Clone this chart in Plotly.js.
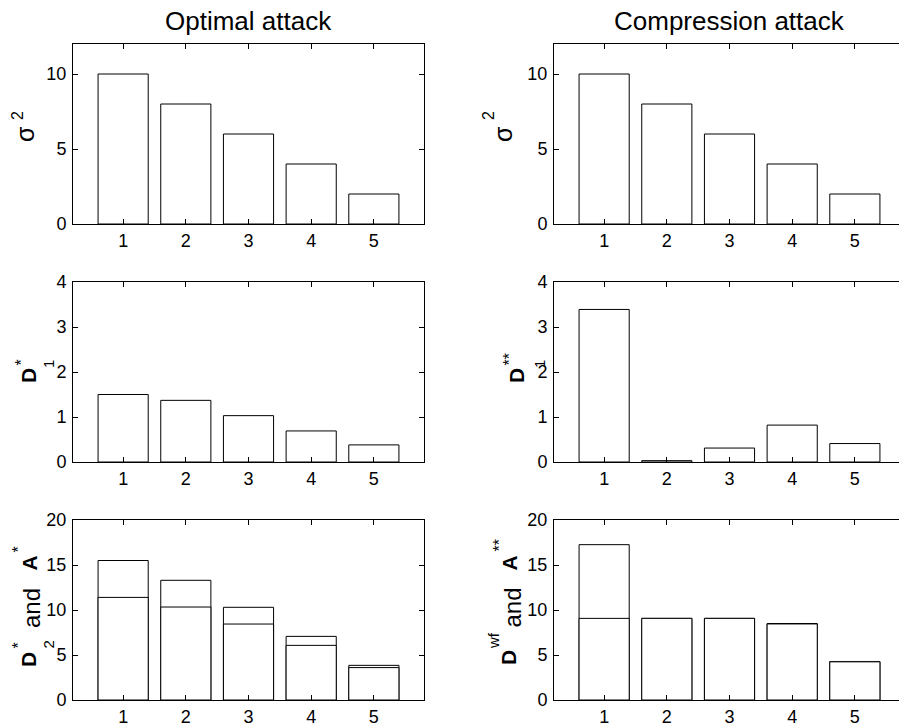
<!DOCTYPE html>
<html>
<head>
<meta charset="utf-8">
<script src="https://cdn.plot.ly/plotly-3.0.1.min.js"></script>
<style>html,body{margin:0;padding:0;background:#fff;}#chart{width:899px;height:728px;}</style>
</head>
<body>
<div id="chart"></div>
<script>
// ---- data ----
const components = [1, 2, 3, 4, 5];
const sigma2 = [10, 8, 6, 4, 2];
const D1opt = [1.5, 1.37, 1.03, 0.69, 0.38];
const D1comp = [3.39, 0.03, 0.31, 0.82, 0.41];
const Aopt = [15.5, 13.3, 10.3, 7.07, 3.85];
const D2opt = [11.4, 10.33, 8.44, 6.07, 3.6];
const Acomp = [17.26, 9.07, 9.07, 8.5, 4.28];
const Dwf = [9.07, 9.07, 9.07, 8.45, 4.24];
const colTitles = ["Optimal attack", "Compression attack"];

const W = 899, H = 728;
const FONT = "Liberation Sans, Arial, Helvetica, sans-serif";
const barStyle = {color: "#ffffff", line: {color: "#000000", width: 1}};

function bar(y, xa, ya) {
  return {type: "bar", x: components, y: y, width: 0.8, xaxis: xa, yaxis: ya,
          marker: barStyle, hoverinfo: "x+y", showlegend: false};
}

const traces = [
  bar(sigma2, "x", "y"),
  bar(sigma2, "x2", "y2"),
  bar(D1opt, "x3", "y3"),
  bar(D1comp, "x4", "y4"),
  bar(Aopt, "x5", "y5"),
  bar(D2opt, "x5", "y5"),
  bar(Acomp, "x6", "y6"),
  bar(Dwf, "x6", "y6")
];

// pixel geometry
const colPx = [[73, 424], [554, 899]];
const unitPx = (424 - 73) / 5.6;
const rowPx = [[44, 224], [282, 462], [520, 700]];
const yRanges = [[0, 12], [0, 4], [0, 20]];
const yDticks = [5, 1, 5];

const layout = {
  width: W, height: H,
  margin: {l: 0, r: 0, t: 0, b: 0},
  paper_bgcolor: "#ffffff", plot_bgcolor: "#ffffff",
  barmode: "overlay",
  font: {family: FONT, size: 18, color: "#000000"},
  annotations: [],
  showlegend: false
};

let idx = 1;
for (let r = 0; r < 3; r++) {
  for (let c = 0; c < 2; c++) {
    const suffix = idx === 1 ? "" : String(idx);
    const cp = colPx[c];
    const xmax = 0.2 + (cp[1] - cp[0]) / unitPx;
    layout["xaxis" + suffix] = {
      domain: [cp[0] / W, cp[1] / W],
      range: [0.2, xmax],
      anchor: "y" + suffix,
      tickvals: components, ticktext: components.map(String),
      ticks: "inside", ticklen: 5, tickcolor: "#000", tickwidth: 1,
      showline: true, linecolor: "#000", linewidth: 1, mirror: "ticks",
      showgrid: false, zeroline: false, fixedrange: true,
      ticklabelstandoff: 0,
      tickfont: {family: FONT, size: 18, color: "#000"}
    };
    layout["yaxis" + suffix] = {
      domain: [1 - rowPx[r][1] / H, 1 - rowPx[r][0] / H],
      range: yRanges[r],
      anchor: "x" + suffix,
      dtick: yDticks[r], tick0: 0,
      ticks: "inside", ticklen: 5, tickcolor: "#000", tickwidth: 1,
      showline: true, linecolor: "#000", linewidth: 1, mirror: c === 0 ? "ticks" : false,
      showgrid: false, zeroline: false, fixedrange: true,
      ticklabelstandoff: 2,
      tickfont: {family: FONT, size: 18, color: "#000"}
    };
    idx++;
  }
}

// column titles
const colCenters = [(73 + 424) / 2, 554 + (424 - 73) / 2];
colTitles.forEach((t, c) => {
  layout.annotations.push({
    text: t, xref: "paper", yref: "paper",
    x: colCenters[c] / W, y: 1 - 21 / H,
    xanchor: "center", yanchor: "middle", showarrow: false,
    font: {family: FONT, size: 26, color: "#000"}
  });
});

// rotated y-axis labels, built from pieces so that super/subscripts stack like TeX
function piece(text, cx, cy, size) {
  layout.annotations.push({
    text: text, xref: "paper", yref: "paper",
    x: cx / W, y: 1 - cy / H,
    xanchor: "center", yanchor: "middle", showarrow: false, textangle: -90,
    font: {family: FONT, size: size, color: "#000"}
  });
}
// row 1: sigma^2
piece("σ", 25, 134, 25);  piece("2", 18, 116, 16);
piece("σ", 503, 134, 25); piece("2", 489, 116, 16);
// row 2: D*_1 and D**_1
piece("<b>D</b>", 28.5, 375.5, 21); piece("1", 48, 364, 15); piece("*", 20.5, 363, 16);
piece("<b>D</b>", 516.5, 375.5, 21); piece("1", 539, 364, 15); piece("**", 508.5, 360, 16);
// row 3 left: D*_2 and A*
piece("<b>D</b>", 28.5, 659.5, 21); piece("2", 47.5, 645, 15); piece("*", 18, 645.5, 16);
piece("and", 31.5, 608.5, 24);
piece("<b>A</b>", 28.5, 563, 21); piece("*", 18, 549.5, 16);
// row 3 right: D^wf and A**
piece("<b>D</b>", 508.5, 657.5, 21); piece("wf", 493.5, 640.5, 15);
piece("and", 511.5, 608, 24);
piece("<b>A</b>", 508.5, 563, 21); piece("**", 498.5, 545, 16);

Plotly.newPlot("chart", traces, layout, {displayModeBar: false, staticPlot: true});
</script>
</body>
</html>
